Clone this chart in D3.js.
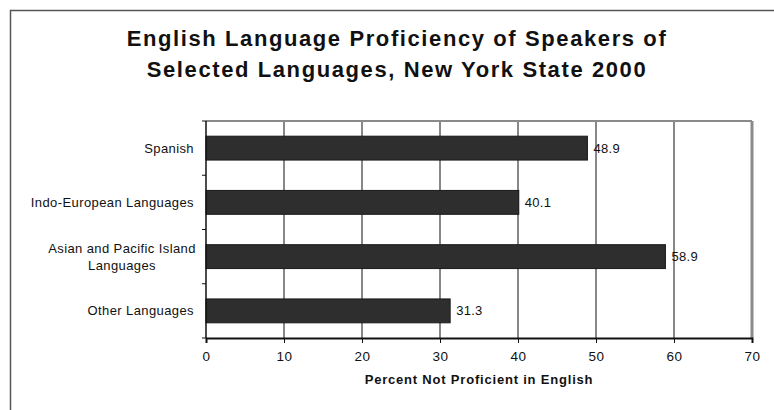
<!DOCTYPE html>
<html>
<head>
<meta charset="utf-8">
<script src="https://cdn.jsdelivr.net/npm/d3@7"></script>
<style>
  body { margin: 0; background: #fff; }
  svg { display: block; font-family: "Liberation Sans", Arial, sans-serif; }
</style>
</head>
<body>
<svg></svg>
<script>
const w = 774
const h = 410

// data
const categories = ['Spanish', 'Indo-European Languages', 'Asian and Pacific Island Languages', 'Other Languages']
const categoryLines = [['Spanish'], ['Indo-European Languages'], ['Asian and Pacific Island', 'Languages'], ['Other Languages']]
const values = [48.9, 40.1, 58.9, 31.3]
const xTicks = [0, 10, 20, 30, 40, 50, 60, 70]
const titleLines = ['English Language Proficiency of Speakers of', 'Selected Languages, New York State 2000']
const xAxisLabel = 'Percent Not Proficient in English'

const svg = d3.select('svg')
  .attr('width', w)
  .attr('height', h);

const margin = {top: 121, right: 22, bottom: 72, left: 206};
const innerWidth = w - margin.left - margin.right;
const innerHeight = h - margin.top - margin.bottom;

// outer frame, only top and left show (rest runs off the page)
svg.append('path')
  .attr('d', `M10.5,${h} V10.5 H${w}`)
  .attr('fill', 'none')
  .attr('stroke', '#555')
  .attr('stroke-width', 1.5);

// title
svg.append('g').selectAll('text').data(titleLines)
  .enter().append('text')
    .attr('x', 397)
    .attr('y', (d, i) => 46 + i * 31)
    .attr('text-anchor', 'middle')
    .attr('font-size', '22px')
    .attr('font-weight', 'bold')
    .attr('letter-spacing', '1.6px')
    .attr('fill', '#111')
    .text(d => d);

const xScale = d3.scaleLinear()
  .domain([0, 70])
  .range([0, innerWidth]);

const yScale = d3.scaleBand()
  .domain(categories)
  .range([0, innerHeight])
  .paddingInner(0.56)
  .paddingOuter(0.28);

const g = svg.append('g')
  .attr('transform', `translate(${margin.left}, ${margin.top})`);

// vertical gridlines
g.selectAll('.grid').data(xTicks.slice(1, -1))
  .enter().append('line')
    .attr('class', 'grid')
    .attr('x1', d => xScale(d)).attr('x2', d => xScale(d))
    .attr('y1', 0).attr('y2', innerHeight)
    .attr('stroke', '#111')
    .attr('stroke-width', 1);

// grey top and right frame of plot area
g.append('line')
  .attr('x1', 0).attr('x2', innerWidth)
  .attr('y1', 0).attr('y2', 0)
  .attr('stroke', '#8a8a8a').attr('stroke-width', 2);
g.append('line')
  .attr('x1', innerWidth).attr('x2', innerWidth)
  .attr('y1', 0).attr('y2', innerHeight)
  .attr('stroke', '#8a8a8a').attr('stroke-width', 3);

// bars
g.selectAll('.bar').data(categories)
  .enter().append('rect')
    .attr('class', 'bar')
    .attr('x', 0)
    .attr('y', d => yScale(d))
    .attr('width', (d, i) => xScale(values[i]))
    .attr('height', yScale.bandwidth())
    .attr('fill', '#2e2e2e')
    .attr('stroke', '#1a1a1a')
    .attr('stroke-width', 1);

// value labels
g.selectAll('.val').data(categories)
  .enter().append('text')
    .attr('class', 'val')
    .attr('x', (d, i) => xScale(values[i]) + 6)
    .attr('y', d => yScale(d) + yScale.bandwidth() / 2)
    .attr('dy', '0.35em')
    .attr('font-size', '13px')
    .attr('letter-spacing', '0.3px')
    .attr('fill', '#111')
    .text((d, i) => values[i].toFixed(1));

// left axis with ticks at band boundaries
const step = yScale.step();
g.append('line')
  .attr('x1', 0).attr('x2', 0)
  .attr('y1', 0).attr('y2', innerHeight)
  .attr('stroke', '#111').attr('stroke-width', 1.5);
g.selectAll('.ytick').data(d3.range(categories.length + 1))
  .enter().append('line')
    .attr('class', 'ytick')
    .attr('x1', -4).attr('x2', 0)
    .attr('y1', i => i * step).attr('y2', i => i * step)
    .attr('stroke', '#111');

// category labels
const labels = g.selectAll('.cat').data(categories)
  .enter().append('text')
    .attr('class', 'cat')
    .attr('text-anchor', 'end')
    .attr('font-size', '13px')
    .attr('letter-spacing', '0.4px')
    .attr('fill', '#111')
    .attr('y', d => yScale(d) + yScale.bandwidth() / 2);
labels.each(function(d, i) {
  const lines = categoryLines[i];
  const el = d3.select(this);
  lines.forEach((line, j) => {
    el.append('tspan')
      .attr('x', -12)
      .attr('dy', j === 0 ? `${0.35 - (lines.length - 1) * 0.6}em` : '1.25em')
      .text(line);
  });
});
// wrapped labels are centred on one another
labels.filter((d, i) => categoryLines[i].length > 1)
  .attr('text-anchor', 'middle')
  .selectAll('tspan').attr('x', -84);

// bottom axis
const xAxis = d3.axisBottom(xScale)
  .tickValues(xTicks)
  .tickSize(5)
  .tickPadding(8);

const xAxisG = g.append('g').call(xAxis)
  .attr('transform', `translate(0, ${innerHeight})`);

xAxisG.select('.domain')
  .attr('stroke', '#111')
  .attr('stroke-width', 2);
xAxisG.selectAll('.tick line').attr('stroke', '#111');
xAxisG.selectAll('.tick text')
  .attr('font-size', '13.5px')
  .attr('letter-spacing', '0.4px')
  .attr('font-family', '"Liberation Sans", Arial, sans-serif')
  .attr('fill', '#111');

g.append('text')
  .attr('x', innerWidth / 2)
  .attr('y', innerHeight + 46)
  .attr('text-anchor', 'middle')
  .attr('font-size', '13px')
  .attr('font-weight', 'bold')
  .attr('letter-spacing', '0.8px')
  .attr('fill', '#111')
  .text(xAxisLabel);
</script>
</body>
</html>
